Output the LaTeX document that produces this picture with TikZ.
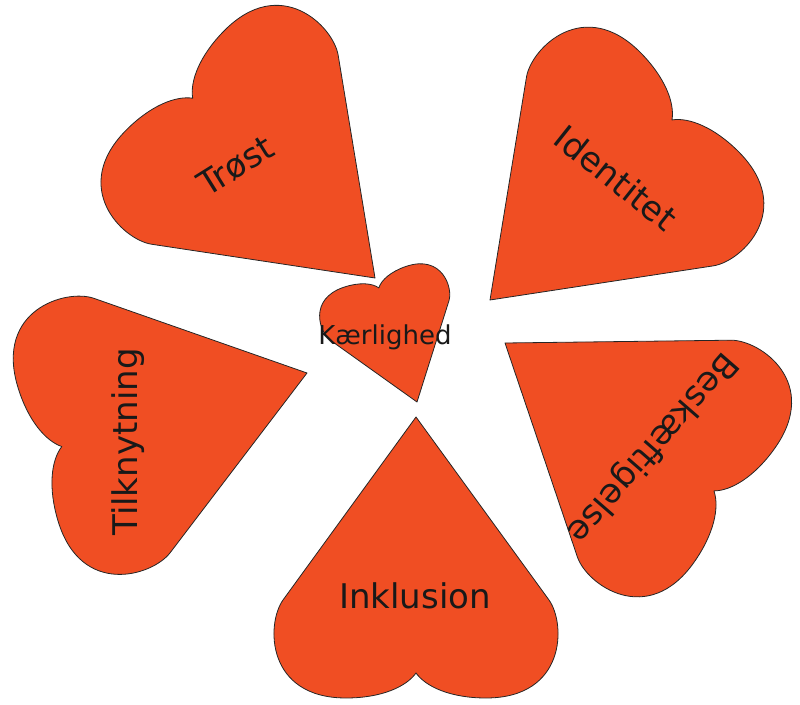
\documentclass[tikz,border=0pt]{standalone}
\usepackage{fontspec}
\setmainfont{DejaVu Sans}
\definecolor{heartred}{RGB}{240,78,35}
\tikzset{
  heartline/.style={draw=black!85, fill=heartred, line width=0.8pt, line join=round},
  heart/.pic={
    \path[heartline] (0,0) -- (-133,-183)
      .. controls (-150,-207) and (-150,-281) .. (-70,-281)
      .. controls (-35,-281) and (-10,-270) .. (0,-256)
      .. controls (10,-270) and (35,-281) .. (70,-281)
      .. controls (150,-281) and (150,-207) .. (133,-183) -- cycle;
  },
  word/.style={font=\fontsize{34}{40}\selectfont, text=black!90, inner sep=0pt},
}

\begin{document}
\begin{tikzpicture}[x=1pt, y=1pt]
  \useasboundingbox (0,0) rectangle (800,704);

  % the five big hearts, placed at their tips
  \pic[rotate=225.4] (troest) at (375,426) {heart};
  \pic[rotate=134.7] (ident) at (490,404) {heart};
  \pic[rotate=54.7] (beskaef) at (505,361) {heart};
  \pic (inkl) at (416,287) {heart};
  \pic[rotate=-73.3] (tilkn) at (307,331) {heart};
  % small one in the middle
  \pic[rotate=198.5, scale=0.47] (kaerl) at (417,302) {heart};

  \node[word, rotate=32] (troestlbl) at (236,538) {Trøst};
  \node[word, rotate=-38.5] (identlbl) at (616,526) {Identitet};
  \node[word, rotate=-131] (beskaeflbl) at (652,257) {Beskæftigelse};
  \node[word] (inkllbl) at (415,108) {Inklusion};
  \node[word, rotate=90] (tilknlbl) at (128,262) {Tilknytning};
  \node[word, font=\fontsize{26}{30}\selectfont] (kaerllbl) at (385,367) {Kærlighed};
\end{tikzpicture}
\end{document}
